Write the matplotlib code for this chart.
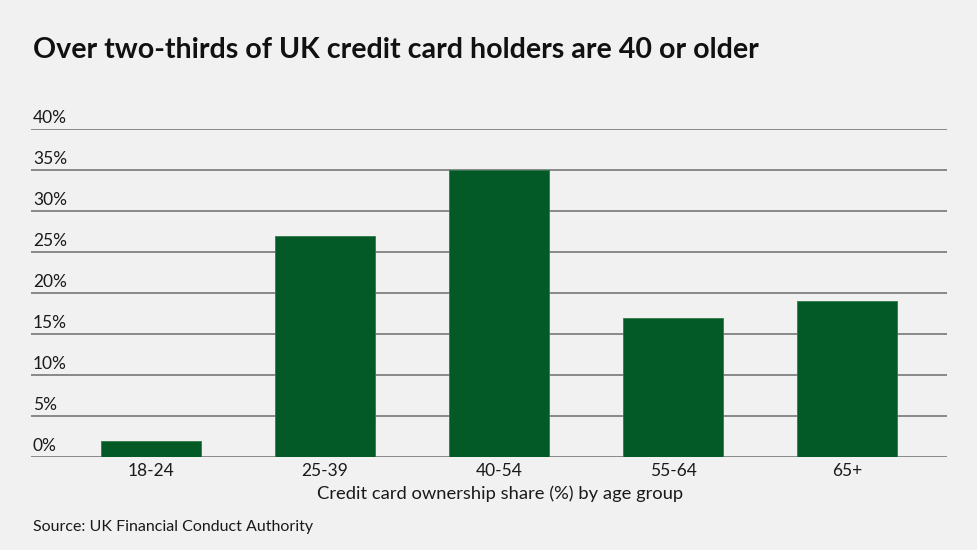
import matplotlib
matplotlib.use("Agg")
import matplotlib.pyplot as plt

categories = ["18-24", "25-39", "40-54", "55-64", "65+"]
values = [2, 27, 35, 17, 19]
yticks = [0, 5, 10, 15, 20, 25, 30, 35, 40]
ytick_labels = [f"{v}%" for v in yticks]

title = "Over two-thirds of UK credit card holders are 40 or older"
xlabel = "Credit card ownership share (%) by age group"
source = "Source: UK Financial Conduct Authority"

bg = "#f0f1f0"
bar_color = "#045a27"
grid_color = "#777777"
W, H = 978, 550

plt.rcParams['font.family'] = ['Lato', 'DejaVu Sans']
fig = plt.figure(figsize=(W / 100, H / 100), dpi=100, facecolor=bg)
ax = fig.add_axes([31 / W, 1 - 457 / H, (947 - 31) / W, (457 - 129) / H])
ax.set_facecolor(bg)

x = list(range(len(categories)))
ax.bar(x, values, width=0.575, color=bar_color, edgecolor="#2e7a4a", linewidth=0.6, zorder=3)
ax.set_xlim(-0.69, 4.575)
ax.set_ylim(0, 40)
ax.set_yticks(yticks)
ax.set_yticklabels([])
ax.tick_params(axis="y", length=0)
for y, lab in zip(yticks, ytick_labels):
    ax.axhline(y, color=grid_color, linewidth=1.2, zorder=1)
    ax.text(0.002, y + 0.35, lab, transform=ax.get_yaxis_transform(), ha="left", va="bottom",
            fontsize=12.5, color="#1a1a1a")
ax.set_xticks(x)
ax.set_xticklabels(categories, fontsize=12.5, color="#1a1a1a")
ax.tick_params(axis="x", length=0, pad=4)
for s in ax.spines.values():
    s.set_visible(False)

ax.set_xlabel(xlabel, fontsize=13.2, color="#1a1a1a", labelpad=5)
ax.xaxis.label.set_x((500 - 31) / (947 - 31))

fig.text(33 / W, 1 - 50 / H, title, fontsize=20.6, fontweight="bold", color="#111111", ha="left", va="center")
fig.text(33 / W, 1 - 527 / H, source, fontsize=11.5, color="#1a1a1a", ha="left", va="center")

fig.savefig("out.png", dpi=100, facecolor=bg)
